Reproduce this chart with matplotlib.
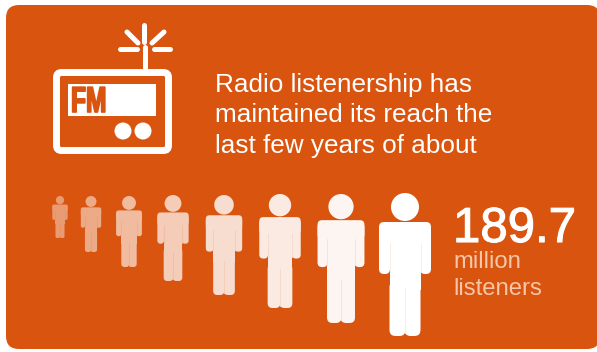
import matplotlib
matplotlib.use('Agg')
import matplotlib.pyplot as plt
import matplotlib.patheffects as pe
from matplotlib.colors import to_rgb
from matplotlib.patches import Circle, FancyBboxPatch, Rectangle
from matplotlib.transforms import Affine2D

plt.rcParams['font.family'] = ['Liberation Sans', 'DejaVu Sans']

ORANGE = '#d9540f'
WHITE = '#ffffff'
PEACH = '#f6c6a6'

headline = ['Radio listenership has', 'maintained its reach the', 'last few years of about']
listeners = '189.7'
unit_lines = ['million', 'listeners']

# row of people, smallest to largest
person_x = [60, 91, 129, 173, 224, 280, 341, 405]
person_top = [196, 196, 196, 195, 195, 194, 194, 193]
person_height = [42, 56, 71, 86, 100, 114, 129, 143]
person_strength = [0.42, 0.50, 0.60, 0.70, 0.80, 0.88, 0.94, 1.0]


class Squeeze(pe.AbstractPathEffect):
    """Narrow a text horizontally around a pixel column and thicken its strokes."""

    def __init__(self, x0, factor, weight):
        super().__init__()
        self.x0 = x0
        self.factor = factor
        self.weight = weight

    def draw_path(self, renderer, gc, tpath, affine, rgbFace=None):
        squeeze = Affine2D().translate(-self.x0, 0).scale(self.factor, 1).translate(self.x0, 0)
        gc0 = renderer.new_gc()
        gc0.copy_properties(gc)
        gc0.set_linewidth(self.weight)
        gc0.set_foreground(rgbFace)
        renderer.draw_path(gc0, tpath, affine + squeeze, rgbFace)
        gc0.restore()


def blend(strength):
    bg = to_rgb(ORANGE)
    return tuple(b + (1 - b) * strength for b in bg)


def rounded(ax, x0, y0, x1, y1, r, color, z=2):
    ax.add_patch(FancyBboxPatch((x0 + r, y0 + r), x1 - x0 - 2 * r, y1 - y0 - 2 * r,
                                boxstyle=f'round,pad={r},rounding_size={r}',
                                fc=color, ec='none', zorder=z))


def person(ax, cx, top, h, strength):
    # proportions taken from a figure 143 units tall
    u = h / 143
    col = blend(strength)
    gap = blend(strength * 0.88)
    ax.add_patch(Circle((cx, top + 14 * u), 14 * u, fc=col, ec='none', zorder=2))
    # shoulders and arms
    rounded(ax, cx - 26 * u, top + 29 * u, cx + 26 * u, top + 50 * u, 5 * u, col)
    rounded(ax, cx - 26 * u, top + 32 * u, cx - 15 * u, top + 81 * u, 5 * u, col)
    rounded(ax, cx + 15 * u, top + 32 * u, cx + 26 * u, top + 81 * u, 5 * u, col)
    # torso and legs
    ax.add_patch(Rectangle((cx - 15.5 * u, top + 32 * u), 31 * u, 65 * u, fc=col, ec='none', zorder=2))
    rounded(ax, cx - 15.5 * u, top + 88 * u, cx + 0.4 * u, top + h, 6 * u, col)
    rounded(ax, cx - 0.4 * u, top + 88 * u, cx + 15.5 * u, top + h, 6 * u, col)
    # thin creases between arm, torso and legs
    lw = 0.6
    ax.plot([cx - 15.5 * u] * 2, [top + 50 * u, top + 79 * u], color=gap, lw=lw, zorder=3)
    ax.plot([cx + 15.5 * u] * 2, [top + 50 * u, top + 79 * u], color=gap, lw=lw, zorder=3)
    ax.plot([cx, cx], [top + 94 * u, top + h - 3 * u], color=gap, lw=lw, zorder=3)


fig = plt.figure(figsize=(5.97, 3.52), dpi=100)
ax = fig.add_axes([0, 0, 1, 1])
ax.set_xlim(0, 597)
ax.set_ylim(352, 0)
ax.axis('off')

# card
rounded(ax, 6, 5, 600, 349, 13, ORANGE, z=1)

# radio icon
ax.add_patch(FancyBboxPatch((59.5, 75.5), 106, 72, boxstyle='round,pad=3,rounding_size=5',
                            fc='none', ec=WHITE, lw=5, zorder=2))
ax.add_patch(Rectangle((68, 84), 88, 32, fc=WHITE, ec='none', zorder=2))
ax.text(71, 112, 'FM', color=ORANGE, fontsize=26, fontweight='bold', va='baseline', ha='left',
        path_effects=[Squeeze(71, 0.68, 1.2)], zorder=3)
for bx in (123, 143):
    ax.add_patch(Circle((bx, 131), 8.5, fc=WHITE, ec='none', zorder=2))

# antenna and its signal rays
rays = [((145, 47), (145, 69)), ((144, 25), (144, 42)), ((120, 49), (137, 49)),
        ((154, 49), (170, 49)), ((127, 32), (138, 43)), ((164, 32), (152, 43))]
for (x0, y0), (x1, y1) in rays:
    ax.plot([x0, x1], [y0, y1], color=WHITE, lw=3.6, solid_capstyle='round', zorder=2)

# headline
for y, line in zip([92, 122, 153], headline):
    ax.text(215, y, line, color=WHITE, fontsize=18.85, va='baseline', ha='left')

for cx, top, h, s in zip(person_x, person_top, person_height, person_strength):
    person(ax, cx, top, h, s)

ax.text(453, 242, listeners, color=WHITE, fontsize=35.4, va='baseline', ha='left',
        path_effects=[pe.withStroke(linewidth=0.8, foreground=WHITE)])
for y, line in zip([268, 295], unit_lines):
    ax.text(453, y, line, color=PEACH, fontsize=17.2, va='baseline', ha='left')

fig.savefig('out.png', dpi=100)
